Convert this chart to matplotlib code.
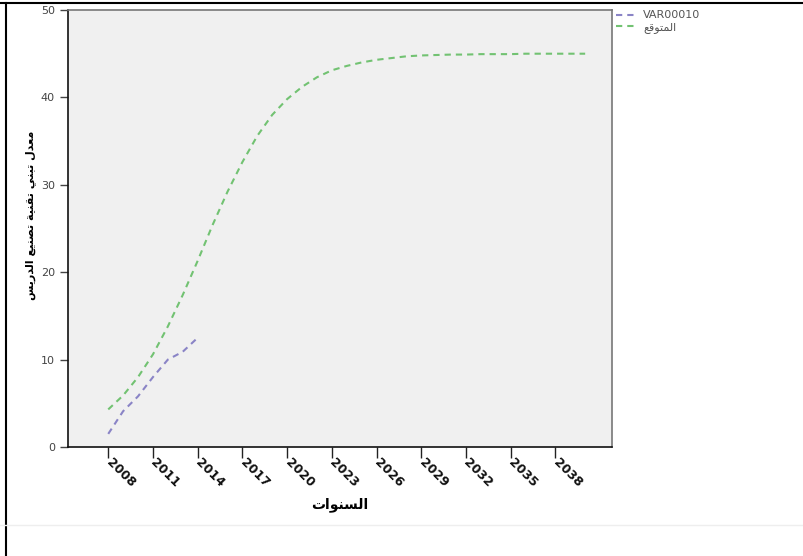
import matplotlib
matplotlib.use("Agg")
import matplotlib.pyplot as plt
from matplotlib.lines import Line2D

# years on the x axis
years = list(range(2008, 2041))
tick_years = list(range(2008, 2039, 3))

# observed series (VAR00010), 2008-2014
observed_years = list(range(2008, 2015))
observed = [1.5, 4.1, 5.8, 8.0, 10.0, 10.9, 12.5]

# expected / fitted series, 2008-2040
expected = [4.3, 5.9, 8.0, 10.6, 13.8, 17.4, 21.3, 25.4, 29.2, 32.6,
            35.6, 38.0, 39.8, 41.2, 42.3, 43.1, 43.6, 44.0, 44.3, 44.5,
            44.7, 44.8, 44.85, 44.9, 44.9, 44.95, 44.95, 44.95, 45.0, 45.0,
            45.0, 45.0, 45.0]

y_ticks = [0, 10, 20, 30, 40, 50]

# Arabic labels, written in presentation forms (visual order) so that
# matplotlib shows them joined and right-to-left
x_label = "\uFE95\uFE8D\uFEEE\uFEE8\uFEB4\uFEDF\uFE8D"  # السنوات
y_label = " ".join([
    "\uFEB2\uFEF3\uFEAD\uFEAA\uFEDF\uFE8D",  # الدريس
    "\uFECA\uFEF4\uFEE8\uFEBC\uFE97",        # تصنيع
    "\uFE94\uFEF4\uFEE8\uFED8\uFE97",        # تقنية
    "\uFEF2\uFEE8\uFE92\uFE97",              # تبني
    "\uFEDD\uFEAA\uFECC\uFEE3",              # معدل
])
legend_labels = ["VAR00010", "\uFECA\uFED7\uFEEE\uFE98\uFEE4\uFEDF\uFE8D"]  # المتوقع

OBS_COLOR = "#8a84c6"
EXP_COLOR = "#72c272"

fig = plt.figure(figsize=(8.04, 5.56), dpi=100)
ax = fig.add_axes([68 / 804, 1 - 447 / 556, 544 / 804, 437 / 556])
ax.set_facecolor("#f0f0f0")

ax.plot(years, expected, color=EXP_COLOR, lw=1.5, dashes=(3, 2.4))
ax.plot(observed_years, observed, color=OBS_COLOR, lw=1.5, dashes=(3, 2.4))

ax.set_xlim(2005.3, 2041.8)
ax.set_ylim(0, 50)
ax.set_yticks(y_ticks)
ax.set_xticks(tick_years)
ax.set_xticklabels([str(y) for y in tick_years], rotation=-45, ha="left",
                   va="center", rotation_mode="anchor",
                   fontsize=9, fontweight="bold", color="#111111")
ax.tick_params(axis="x", direction="out", length=8, width=1, pad=2, color="#222222")
ax.tick_params(axis="y", direction="out", length=6, width=1, labelsize=8,
               labelcolor="#444444", color="#444444")

for side in ["left", "bottom"]:
    ax.spines[side].set_color("#111111")
    ax.spines[side].set_linewidth(1.2)
for side in ["top", "right"]:
    ax.spines[side].set_color("#777777")
    ax.spines[side].set_linewidth(1.2)

ax.set_xlabel(x_label, fontsize=10, fontweight="bold", family="DejaVu Sans")
ax.xaxis.set_label_coords(0.5, -0.115)
ax.set_ylabel(y_label, fontsize=8, fontweight="bold", family="DejaVu Sans")
ax.yaxis.set_label_coords(-0.058, 0.53)

handles = [
    Line2D([], [], color=OBS_COLOR, lw=1.5, dashes=(3, 2.4)),
    Line2D([], [], color=EXP_COLOR, lw=1.5, dashes=(3, 2.4)),
]
leg = fig.legend(handles, legend_labels, loc="upper left",
                 bbox_to_anchor=(612 / 804, 1 - 6 / 556), frameon=False,
                 fontsize=8, handlelength=1.8, handletextpad=0.6,
                 labelspacing=0.1, borderaxespad=0)
for t in leg.get_texts():
    t.set_color("#555555")
    t.set_family("DejaVu Sans")

# outer frame of the exported chart
fig.add_artist(Line2D([0, 1], [1 - 3 / 556, 1 - 3 / 556], transform=fig.transFigure,
                      color="black", lw=1.5))
fig.add_artist(Line2D([6 / 804, 6 / 804], [0, 1 - 3 / 556], transform=fig.transFigure,
                      color="black", lw=1.5))
fig.add_artist(Line2D([0, 1], [1 - 525 / 556, 1 - 525 / 556], transform=fig.transFigure,
                      color="#eeeeee", lw=1))

fig.savefig("out.png", dpi=100)
